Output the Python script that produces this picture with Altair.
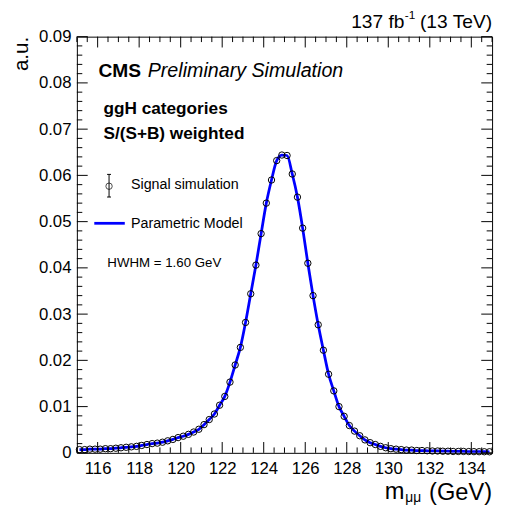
import altair as alt
import pandas as pd

# bin centres (GeV) and normalised signal simulation (a.u.)
mass = [115.125, 115.375, 115.625, 115.875, 116.125, 116.375, 116.625, 116.875,
        117.125, 117.375, 117.625, 117.875, 118.125, 118.375, 118.625, 118.875,
        119.125, 119.375, 119.625, 119.875, 120.125, 120.375, 120.625, 120.875,
        121.125, 121.375, 121.625, 121.875, 122.125, 122.375, 122.625, 122.875,
        123.125, 123.375, 123.625, 123.875, 124.125, 124.375, 124.625, 124.875,
        125.125, 125.375, 125.625, 125.875, 126.125, 126.375, 126.625, 126.875,
        127.125, 127.375, 127.625, 127.875, 128.125, 128.375, 128.625, 128.875,
        129.125, 129.375, 129.625, 129.875, 130.125, 130.375, 130.625, 130.875,
        131.125, 131.375, 131.625, 131.875, 132.125, 132.375, 132.625, 132.875,
        133.125, 133.375, 133.625, 133.875, 134.125, 134.375, 134.625, 134.875]
signal = [0.0007, 0.0007, 0.0008, 0.0008, 0.0008, 0.0009, 0.0009, 0.0010,
          0.0011, 0.0012, 0.0013, 0.0014, 0.0016, 0.0018, 0.0020, 0.0021,
          0.0023, 0.0026, 0.0029, 0.0033, 0.0036, 0.0040, 0.0045, 0.0051,
          0.0061, 0.0072, 0.0084, 0.0103, 0.0122, 0.0153, 0.0190, 0.0228,
          0.0282, 0.0344, 0.0406, 0.0474, 0.0540, 0.0590, 0.0632, 0.0644,
          0.0643, 0.0603, 0.0553, 0.0486, 0.0410, 0.0340, 0.0277, 0.0222,
          0.0170, 0.0134, 0.0100, 0.0079, 0.0059, 0.0047, 0.0037, 0.0028,
          0.0022, 0.0018, 0.0014, 0.0011, 0.0009, 0.0008, 0.0007, 0.0006,
          0.0006, 0.0005, 0.0005, 0.00045, 0.0004, 0.0004, 0.00035, 0.00035,
          0.0003, 0.0003, 0.0003, 0.00028, 0.00026, 0.00025, 0.00024, 0.00023]

x_major = [116, 118, 120, 122, 124, 126, 128, 130, 132, 134]
x_minor = [115, 115.5, 116.5, 117, 117.5, 118.5, 119, 119.5, 120.5, 121, 121.5,
           122.5, 123, 123.5, 124.5, 125, 125.5, 126.5, 127, 127.5, 128.5, 129,
           129.5, 130.5, 131, 131.5, 132.5, 133, 133.5, 134.5, 135]
y_major = [0, 0.01, 0.02, 0.03, 0.04, 0.05, 0.06, 0.07, 0.08, 0.09]
y_minor = [0.002, 0.004, 0.006, 0.008, 0.012, 0.014, 0.016, 0.018, 0.022, 0.024,
           0.026, 0.028, 0.032, 0.034, 0.036, 0.038, 0.042, 0.044, 0.046, 0.048,
           0.052, 0.054, 0.056, 0.058, 0.062, 0.064, 0.066, 0.068, 0.072, 0.074,
           0.076, 0.078, 0.082, 0.084, 0.086, 0.088]

W, H = 422, 423
FONT = "Liberation Sans"

df = pd.DataFrame({"x": mass, "y": signal})
xs = alt.Scale(domain=[115, 135], nice=False, zero=False)
ys = alt.Scale(domain=[0, 0.09], nice=False, zero=False)
ax_x = alt.Axis(values=x_major, title=None, ticks=False, domain=False, grid=False,
                labelFontSize=17, labelFont=FONT, labelColor="black", labelPadding=8,
                format="d")
ax_y = alt.Axis(values=y_major, title=None, ticks=False, domain=False, grid=False,
                labelFontSize=17, labelFont=FONT, labelColor="black", labelPadding=6,
                labelExpr="datum.value == 0 ? '0' : format(datum.value, '.2f')")
X = alt.X("x:Q", scale=xs, axis=ax_x)
Y = alt.Y("y:Q", scale=ys, axis=ax_y)

line = alt.Chart(df).mark_line(color="#0000ff", strokeWidth=2.8,
                               interpolate="monotone", clip=True).encode(x=X, y=Y)
pts = alt.Chart(df).mark_point(shape="circle", filled=False, color="black",
                               size=42, strokeWidth=1, opacity=1).encode(x=X, y=Y)

def xticks(vals, ln):
    d = pd.DataFrame({"x": vals})
    b = alt.Chart(d).mark_rule(color="black", strokeWidth=1).encode(
        x=X, y=alt.value(H), y2=alt.value(H - ln))
    t = alt.Chart(d).mark_rule(color="black", strokeWidth=1).encode(
        x=X, y=alt.value(0), y2=alt.value(ln))
    return [b, t]

def yticks(vals, ln):
    d = pd.DataFrame({"y": vals})
    l = alt.Chart(d).mark_rule(color="black", strokeWidth=1).encode(
        y=Y, x=alt.value(0), x2=alt.value(ln))
    r = alt.Chart(d).mark_rule(color="black", strokeWidth=1).encode(
        y=Y, x=alt.value(W), x2=alt.value(W - ln))
    return [l, r]

dummy = pd.DataFrame({"d": [0]})

def txt(s, x, y, size, weight="normal", style="normal", align="left", angle=0):
    kw = dict(font=FONT, fontSize=size, fontWeight=weight, fontStyle=style,
              align=align, baseline="middle", color="black")
    if angle:
        kw["angle"] = angle
    return alt.Chart(dummy).mark_text(**kw).encode(
        x=alt.value(x), y=alt.value(y), text=alt.value(s))

texts = [
    txt("CMS", 22, 35, 19.5, weight="bold"),
    txt("Preliminary Simulation", 72, 35, 20, style="italic"),
    txt("ggH categories", 27, 74, 17.5, weight="bold"),
    txt("S/(S+B) weighted", 27, 99, 17.5, weight="bold"),
    txt("Signal simulation", 55, 150.5, 14.5),
    txt("Parametric Model", 55, 190, 14.5),
    txt("HWHM = 1.60 GeV", 31, 229.7, 13.5),
    txt(" (13 TeV)", 422, -15, 19.5, align="right"),
    txt("-1", 344, -22, 12, align="right"),
    txt("137 fb", 333, -15, 19.5, align="right"),
    txt("a.u.", -56, 0, 21, align="right", angle=270),
    txt("(GeV)", 422, 464, 24, align="right"),
    txt("μμ", 350, 469, 14, align="right"),
    txt("m", 333, 463, 24, align="right"),
]

leg_pt = alt.Chart(dummy).mark_point(shape="circle", filled=False, color="black",
                                     size=42, strokeWidth=1).encode(
    x=alt.value(32.7), y=alt.value(152))
leg_err = alt.Chart(dummy).mark_rule(color="black", strokeWidth=1).encode(
    x=alt.value(32.7), y=alt.value(140), y2=alt.value(163))
leg_cap1 = alt.Chart(dummy).mark_rule(color="black", strokeWidth=1).encode(
    x=alt.value(30.7), x2=alt.value(34.7), y=alt.value(140))
leg_cap2 = alt.Chart(dummy).mark_rule(color="black", strokeWidth=1).encode(
    x=alt.value(30.7), x2=alt.value(34.7), y=alt.value(163))
leg_line = alt.Chart(dummy).mark_rule(color="#0000ff", strokeWidth=2.8).encode(
    x=alt.value(17.7), x2=alt.value(48.7), y=alt.value(189.7))

layers = ([line, pts] + xticks(x_major, 11) + xticks(x_minor, 5.5)
          + yticks(y_major, 11) + yticks(y_minor, 5.5)
          + [leg_err, leg_cap1, leg_cap2, leg_pt, leg_line] + texts)

chart = alt.layer(*layers).properties(
    width=W, height=H,
    autosize=alt.AutoSizeParams(type="none"),
    padding={"left": 70, "top": 25, "right": 5, "bottom": 56},
    background="white",
).configure_view(stroke="black", strokeWidth=1)

chart.save("out.html", embed_options={"renderer": "svg", "actions": False})
